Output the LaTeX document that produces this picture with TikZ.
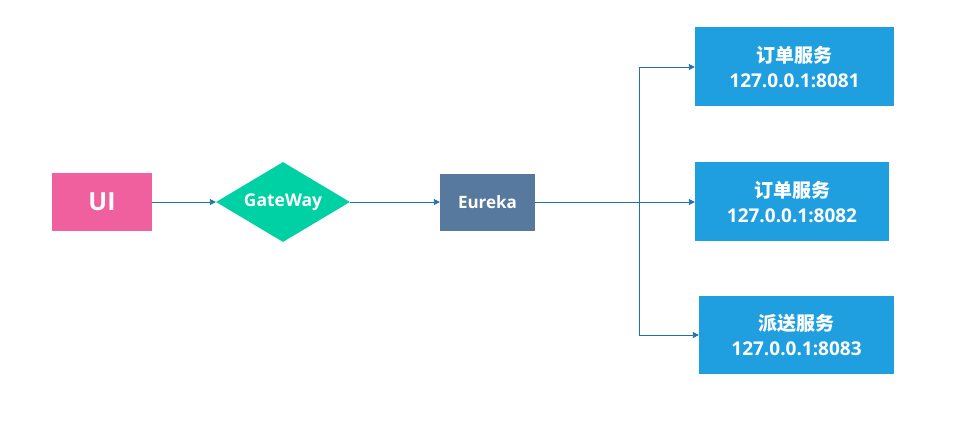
\documentclass[tikz,border=0pt]{standalone}
\usepackage{fontspec}
\setmainfont{Open Sans}
\newfontfamily\cjk{Noto Sans CJK SC}
\usetikzlibrary{shapes.geometric,arrows.meta}
\definecolor{uipink}{HTML}{F0609E}
\definecolor{gwgreen}{HTML}{00D1A5}
\definecolor{eurekablue}{HTML}{57799D}
\definecolor{svcblue}{HTML}{209FE0}
\definecolor{linecol}{HTML}{2271AA}
\tikzset{
  box/.style={draw=none, fill=#1, text=white, inner sep=0pt, align=center},
  conn/.style={draw=linecol, line width=0.9pt, -{Triangle[length=6pt,width=6pt]}},
  plain/.style={draw=linecol, line width=0.9pt},
  svctext/.style={font=\fontsize{19}{25}\selectfont\bfseries}
}
\begin{document}
\begin{tikzpicture}[x=1pt,y=-1pt]
\useasboundingbox (0,0) rectangle (979,426);
\node[box=uipink, minimum width=100pt, minimum height=58pt, font=\fontsize{25}{28}\selectfont\bfseries] (ui) at (102,202) {UI};
\node[box=gwgreen, diamond, aspect=1.675, minimum width=134pt, minimum height=80pt, font=\fontsize{17.5}{20}\selectfont\bfseries] (gw) at (283,202) {GateWay};
\node[box=eurekablue, minimum width=95pt, minimum height=57pt, font=\fontsize{17}{20}\selectfont\bfseries] (eu) at (487.5,202) {Eureka};
\node[box=svcblue, minimum width=199pt, minimum height=79pt, svctext] (s1) at (794.5,66.5) {{\cjk 订单服务}\\127.0.0.1:8081};
\node[box=svcblue, minimum width=194pt, minimum height=79pt, svctext] (s2) at (792,201.5) {{\cjk 订单服务}\\127.0.0.1:8082};
\node[box=svcblue, minimum width=195pt, minimum height=78pt, svctext] (s3) at (796.5,335) {{\cjk 派送服务}\\127.0.0.1:8083};
\coordinate (jt) at (639,67);
\coordinate (jb) at (639,335);
\draw[conn] (ui.east) -- (gw.west);
\draw[conn] (gw.east) -- (eu.west);
\draw[conn] (eu.east) -- (s2.west |- eu.east);
\draw[plain] (jt) -- (jb);
\draw[conn] (jt) -- (s1.west |- jt);
\draw[conn] (jb) -- (s3.west |- jb);
\end{tikzpicture}
\end{document}
